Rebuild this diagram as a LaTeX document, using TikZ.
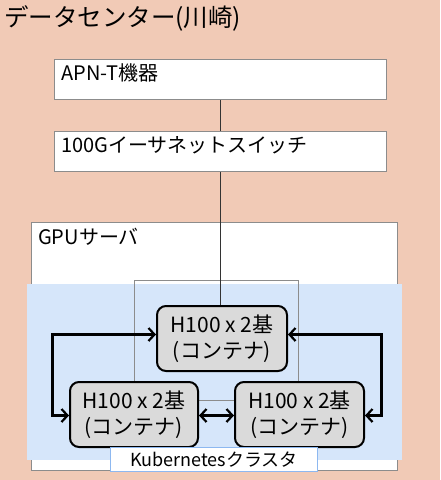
\documentclass[tikz,border=0pt]{standalone}
\usepackage{fontspec}
\setmainfont{Noto Sans CJK JP}
\usetikzlibrary{arrows.meta}
\definecolor{salmon}{HTML}{F1CAB6}
\definecolor{lblue}{HTML}{D6E6FA}
\definecolor{boxgray}{HTML}{DADADA}
\definecolor{edgegray}{HTML}{8C8C8C}
\definecolor{kborder}{HTML}{8DB8F0}
\tikzset{
  plainbox/.style={draw=edgegray, fill=white, line width=0.9pt, inner sep=0pt, anchor=north west},
  boxlabel/.style={anchor=west, inner sep=0pt, font=\fontsize{20}{22}\selectfont},
  gpubox/.style={draw=black, fill=boxgray, line width=2pt, rounded corners=9pt, minimum width=128pt, minimum height=65pt, inner sep=0pt, align=center, font=\fontsize{21}{26}\selectfont, anchor=north west},
  link/.style={line width=3pt, {Straight Barb[length=6pt,width=13pt,line width=2.2pt]}-{Straight Barb[length=6pt,width=13pt,line width=2.2pt]}},
  wire/.style={line width=1pt, draw=black!80}
}
\begin{document}
\begin{tikzpicture}[x=1pt,y=-1pt]
\useasboundingbox (0,0) rectangle (440,480);
\fill[salmon] (0,0) rectangle (440,480);
\node[anchor=west, inner sep=0pt, font=\fontsize{24.5}{27}\selectfont] (title) at (4,18) {データセンター(川崎)};
% APN-T box
\node[plainbox, minimum width=332pt, minimum height=40pt] (apn) at (54,59) {};
\node[boxlabel] (apnlabel) at (61,73) {APN-T機器};
% switch
\node[plainbox, minimum width=332pt, minimum height=40pt] (sw) at (54,131) {};
\node[boxlabel] (swlabel) at (61,145) {100Gイーサネットスイッチ};
% GPU server
\node[plainbox, minimum width=366pt, minimum height=248pt] (gpu) at (31,222) {};
\node[boxlabel] (gpulabel) at (38,237) {GPUサーバ};
% blue region
\node[fill=lblue, inner sep=0pt, minimum width=375pt, minimum height=176pt, anchor=north west] (k8s) at (27,284) {};
% inner thin rectangle
\node[draw=edgegray, line width=0.8pt, inner sep=0pt, minimum width=164pt, minimum height=120pt, anchor=north west] (inner) at (134,280) {};
% GPU nodes
\node[gpubox, minimum width=130pt] (h1) at (156,305) {H100 x 2基\\(コンテナ)};
\node[gpubox] (h2) at (69,381) {H100 x 2基\\(コンテナ)};
\node[gpubox, minimum width=129pt] (h3) at (234,381) {H100 x 2基\\(コンテナ)};
% Kubernetes label
\node[draw=kborder, fill=white, line width=1pt, minimum width=207pt, minimum height=24pt, inner sep=0pt, anchor=north west, font=\fontsize{18}{20}\selectfont] (klabel) at (110,447) {Kubernetesクラスタ};
% wires
\draw[wire] (apn.south) -- (sw.north);
\draw[wire] (sw.south) -- (sw.south |- h1.north);
% links
\coordinate (lc) at (52,339);
\coordinate (rc) at (381,339);
\draw[link] ([yshift=4pt]h1.west) -| (lc) |- ([yshift=-1pt]h2.west);
\draw[link] ([yshift=4pt]h1.east) -| (rc) |- ([yshift=-1pt]h3.east);
\draw[link] ([yshift=-1pt]h2.east) -- ([yshift=-1pt]h3.west);
\end{tikzpicture}
\end{document}
